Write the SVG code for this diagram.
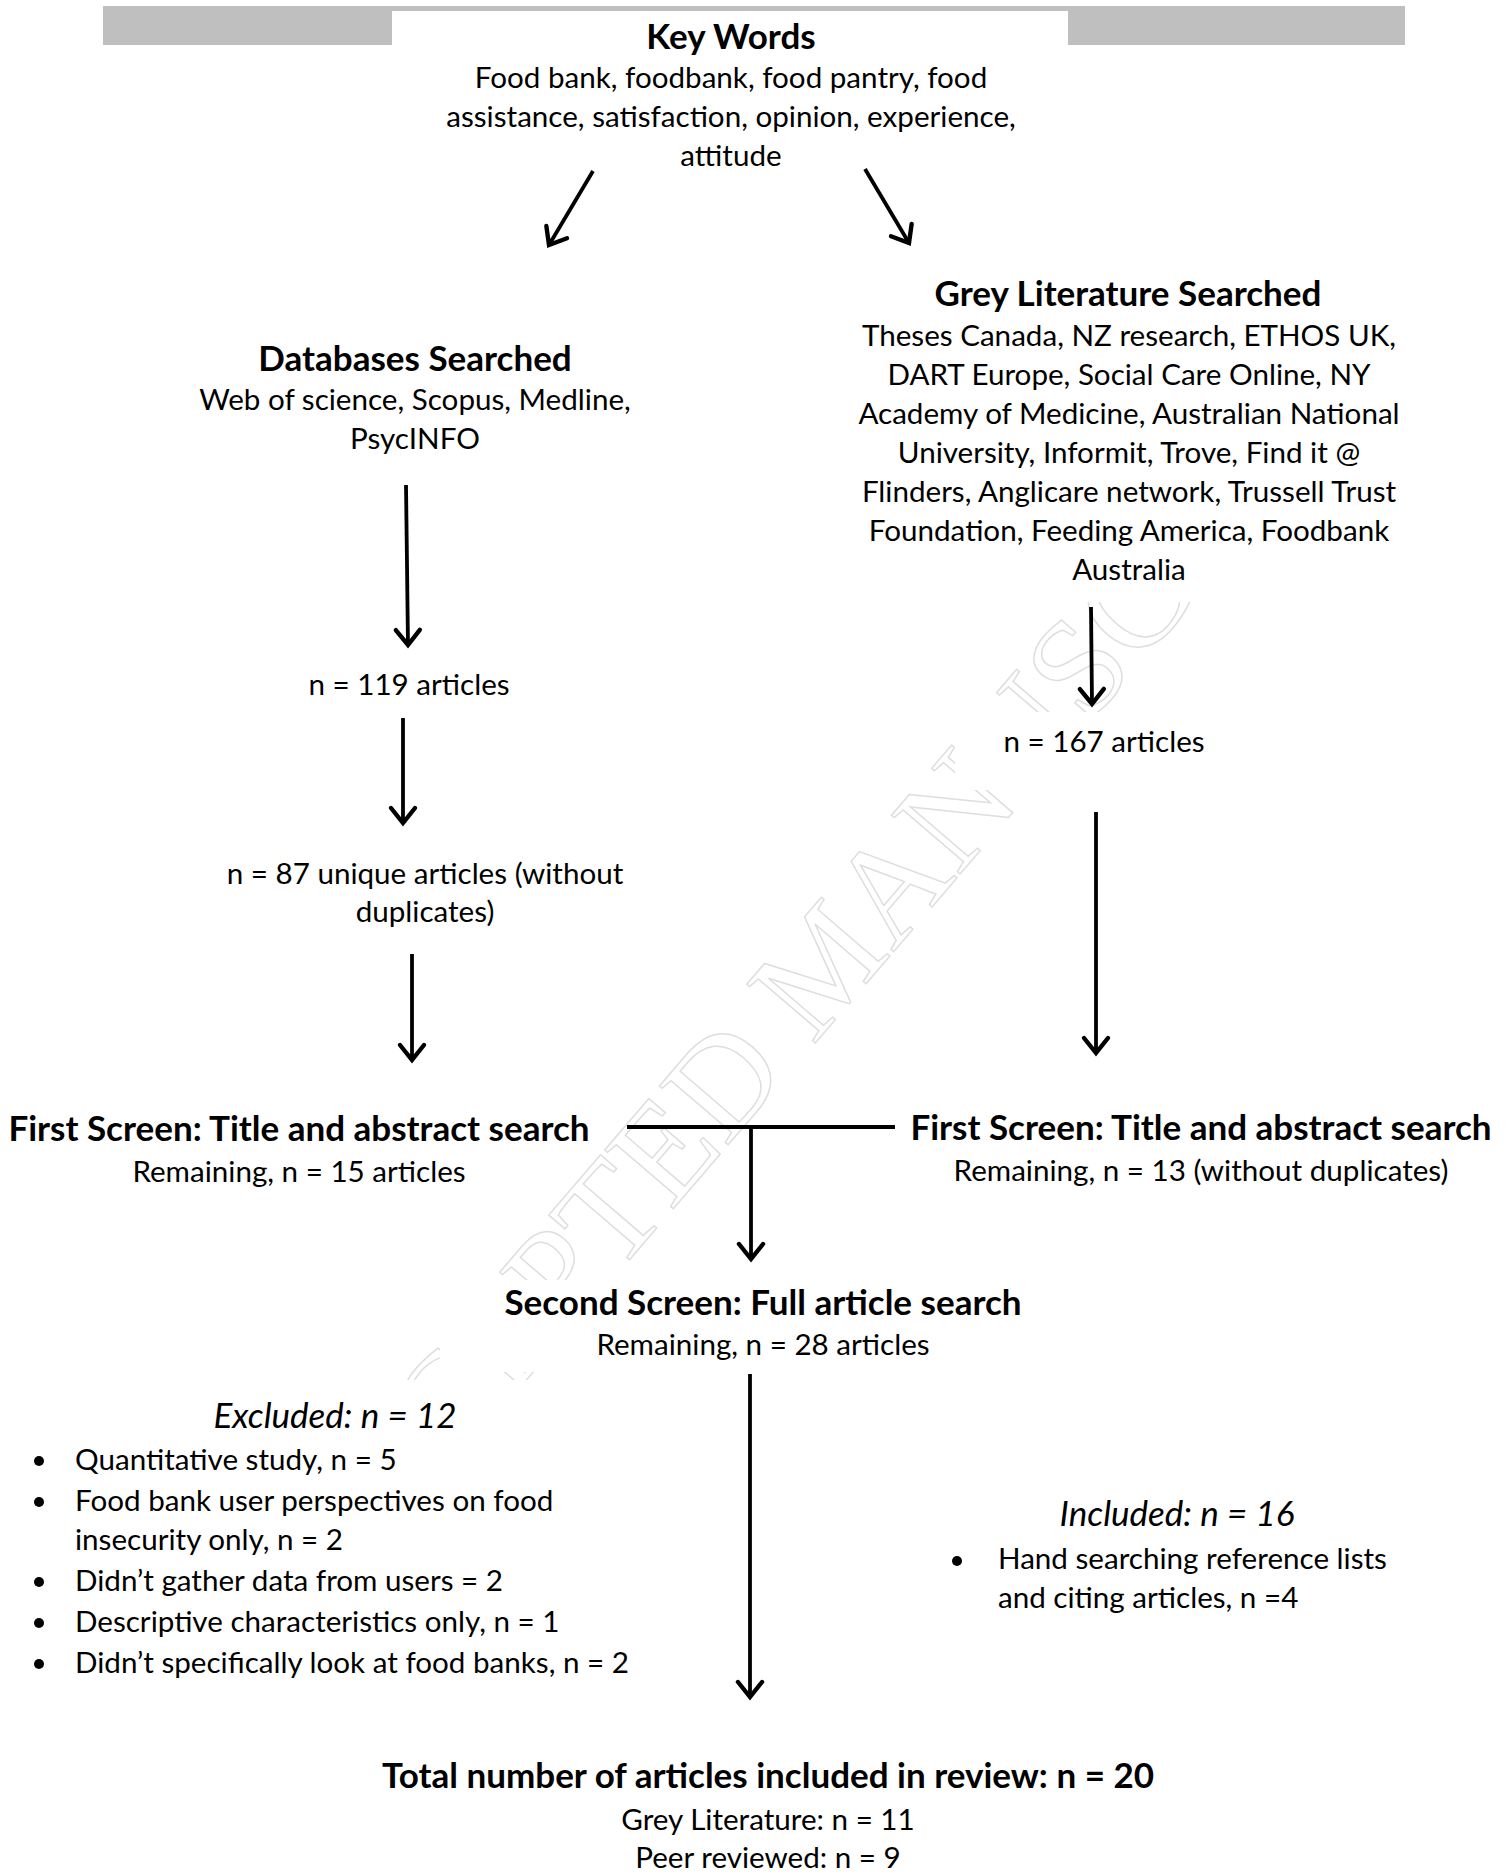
<svg xmlns="http://www.w3.org/2000/svg" width="1510" height="1876" viewBox="0 0 1510 1876">
<defs>
<style>
text{font-family:Lato,"Open Sans","Liberation Sans",sans-serif;fill:#000}
.h{font-weight:bold;font-size:35px}
.b{font-size:29.6px}
.i{font-style:italic;font-size:35px}
.c{text-anchor:middle}
.wm{font-family:"Liberation Serif","DejaVu Serif",serif;font-size:138px;fill:#fff;stroke:#dedede;stroke-width:1.5}
.ln{stroke:#000;stroke-width:3.8;fill:none}
.occ{fill:#fff}
</style>
<marker id="ah" markerUnits="userSpaceOnUse" viewBox="-20 -16 24 32" refX="0" refY="0" markerWidth="24" markerHeight="32" orient="auto">
<path d="M-15,-12 L0,0 L-15,12" fill="none" stroke="#000" stroke-width="4.4" stroke-linecap="round"/>
</marker>
</defs>
<rect width="1510" height="1876" fill="#fff"/>

<g id="watermark">
<text class="wm" x="859" y="992" text-anchor="middle" transform="rotate(-49.4 859 992)">ACCEPTED MANUSCRIPT</text>
<rect class="occ" x="850" y="268" width="570" height="334"/>
<rect class="occ" x="0" y="1380" width="640" height="310"/>
<rect class="occ" x="440" y="1280" width="640" height="92"/>
<rect class="occ" x="955" y="712" width="295" height="78"/>
</g>

<g id="header-bar">
<rect x="103" y="6" width="1302" height="39" fill="#bfbfbf"/>
<rect x="392" y="11" width="676" height="50" fill="#fff"/>
</g>

<g id="key-words">
<text class="h c" x="731" y="49">Key Words</text>
<text class="b c" x="731" y="88">Food bank, foodbank, food pantry, food</text>
<text class="b c" x="731" y="127">assistance, satisfaction, opinion, experience,</text>
<text class="b c" x="731" y="166">attitude</text>
</g>

<g id="databases">
<text class="h c" x="415" y="371">Databases Searched</text>
<text class="b c" x="415" y="410">Web of science, Scopus, Medline,</text>
<text class="b c" x="415" y="449">PsycINFO</text>
</g>

<g id="grey-literature">
<text class="h c" x="1128" y="306">Grey Literature Searched</text>
<text class="b c" x="1129" y="346">Theses Canada, NZ research, ETHOS UK,</text>
<text class="b c" x="1129" y="385">DART Europe, Social Care Online, NY</text>
<text class="b c" x="1129" y="424">Academy of Medicine, Australian National</text>
<text class="b c" x="1129" y="463">University, Informit, Trove, Find it @</text>
<text class="b c" x="1129" y="502">Flinders, Anglicare network, Trussell Trust</text>
<text class="b c" x="1129" y="541">Foundation, Feeding America, Foodbank</text>
<text class="b c" x="1129" y="580">Australia</text>
</g>

<g id="n119">
<text class="b c" x="409" y="695">n = 119 articles</text>
</g>

<g id="n87">
<text class="b c" x="425" y="884">n = 87 unique articles (without</text>
<text class="b c" x="425" y="922">duplicates)</text>
</g>

<g id="n167">
<text class="b c" x="1104" y="752">n = 167 articles</text>
</g>

<g id="first-screen-left">
<text class="h c" x="299" y="1141">First Screen: Title and abstract search</text>
<text class="b c" x="299" y="1182">Remaining, n = 15 articles</text>
</g>

<g id="first-screen-right">
<text class="h c" x="1201" y="1140">First Screen: Title and abstract search</text>
<text class="b c" x="1201" y="1181">Remaining, n = 13 (without duplicates)</text>
</g>

<g id="second-screen">
<text class="h c" x="763" y="1315">Second Screen: Full article search</text>
<text class="b c" x="763" y="1355">Remaining, n = 28 articles</text>
</g>

<g id="excluded">
<text class="i c" x="335" y="1428">Excluded: n = 12</text>
<circle cx="39" cy="1461" r="5"/>
<text class="b" x="75" y="1470">Quantitative study, n = 5</text>
<circle cx="39" cy="1502" r="5"/>
<text class="b" x="75" y="1511">Food bank user perspectives on food</text>
<text class="b" x="75" y="1550">insecurity only, n = 2</text>
<circle cx="39" cy="1582" r="5"/>
<text class="b" x="75" y="1591">Didn’t gather data from users = 2</text>
<circle cx="39" cy="1623" r="5"/>
<text class="b" x="75" y="1632">Descriptive characteristics only, n = 1</text>
<circle cx="39" cy="1664" r="5"/>
<text class="b" x="75" y="1673">Didn’t specifically look at food banks, n = 2</text>
</g>

<g id="included">
<text class="i c" x="1177" y="1526">Included: n = 16</text>
<circle cx="957" cy="1561" r="5"/>
<text class="b" x="998" y="1569">Hand searching reference lists</text>
<text class="b" x="998" y="1608">and citing articles, n =4</text>
</g>

<g id="total">
<text class="h c" x="768" y="1788">Total number of articles included in review: n = 20</text>
<text class="b c" x="768" y="1830">Grey Literature: n = 11</text>
<text class="b c" x="768" y="1868">Peer reviewed: n = 9</text>
</g>

<g id="connectors">
<line class="ln" x1="593" y1="171" x2="549" y2="245" stroke-width="4.6" marker-end="url(#ah)"/>
<line class="ln" x1="865" y1="169" x2="909" y2="243" stroke-width="4.6" marker-end="url(#ah)"/>
<line class="ln" x1="406" y1="485" x2="408" y2="645" marker-end="url(#ah)"/>
<line class="ln" x1="403" y1="718" x2="403" y2="823" marker-end="url(#ah)"/>
<line class="ln" x1="412" y1="954" x2="412" y2="1060" marker-end="url(#ah)"/>
<line class="ln" x1="1091" y1="607" x2="1092" y2="704" marker-end="url(#ah)"/>
<line class="ln" x1="1096" y1="812" x2="1096" y2="1053" marker-end="url(#ah)"/>
<line class="ln" x1="627" y1="1127" x2="895" y2="1127" stroke-width="5"/>
<line class="ln" x1="751" y1="1127" x2="751" y2="1259" stroke-width="3.4" marker-end="url(#ah)"/>
<line class="ln" x1="750" y1="1374" x2="750" y2="1697" stroke-width="3.4" marker-end="url(#ah)"/>
</g>
</svg>
